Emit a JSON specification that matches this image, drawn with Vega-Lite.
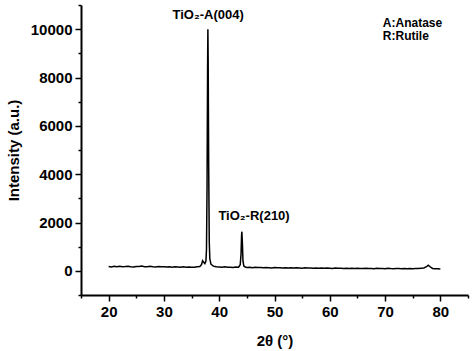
{
  "$schema": "https://vega.github.io/schema/vega-lite/v6.json",
  "width": 387,
  "height": 290,
  "autosize": {"type": "none"},
  "padding": {"left": 81, "top": 5, "right": 6, "bottom": 56},
  "background": "white",
  "config": {
    "view": {"stroke": null},
    "font": "Liberation Sans",
    "axis": {
      "domainColor": "black",
      "domainWidth": 2,
      "tickColor": "black",
      "tickWidth": 1.5,
      "labelColor": "black",
      "labelFont": "Liberation Sans",
      "labelFontWeight": "bold",
      "labelFontSize": 15,
      "labelFlush": false,
      "titleFont": "Liberation Sans",
      "titleFontWeight": "bold",
      "titleFontSize": 15,
      "titleColor": "black",
      "grid": false
    }
  },
  "datasets": {
    "xrd": [
      {"t": 20, "i": 180}, {"t": 20.5, "i": 160}, {"t": 21, "i": 190}, {"t": 21.5, "i": 170},
      {"t": 22, "i": 185}, {"t": 22.5, "i": 165}, {"t": 23, "i": 175}, {"t": 23.5, "i": 190},
      {"t": 24, "i": 170}, {"t": 24.5, "i": 160}, {"t": 25, "i": 180}, {"t": 25.5, "i": 175},
      {"t": 26, "i": 195}, {"t": 26.5, "i": 170}, {"t": 27, "i": 165}, {"t": 27.5, "i": 185},
      {"t": 28, "i": 170}, {"t": 28.5, "i": 160}, {"t": 29, "i": 175}, {"t": 29.5, "i": 165},
      {"t": 30, "i": 170}, {"t": 30.5, "i": 155}, {"t": 31, "i": 165}, {"t": 31.5, "i": 150},
      {"t": 32, "i": 170}, {"t": 32.5, "i": 160}, {"t": 33, "i": 150}, {"t": 33.5, "i": 165},
      {"t": 34, "i": 145}, {"t": 34.5, "i": 160}, {"t": 35, "i": 150}, {"t": 35.5, "i": 145},
      {"t": 36, "i": 165}, {"t": 36.5, "i": 180}, {"t": 36.8, "i": 260}, {"t": 37.0, "i": 420},
      {"t": 37.2, "i": 350}, {"t": 37.4, "i": 300}, {"t": 37.6, "i": 400}, {"t": 37.7, "i": 900},
      {"t": 37.8, "i": 3500}, {"t": 37.9, "i": 8500}, {"t": 37.95, "i": 10000}, {"t": 38.0, "i": 8800},
      {"t": 38.1, "i": 4200}, {"t": 38.2, "i": 1200}, {"t": 38.3, "i": 500}, {"t": 38.5, "i": 280},
      {"t": 38.8, "i": 220}, {"t": 39, "i": 190}, {"t": 39.5, "i": 170}, {"t": 40, "i": 160},
      {"t": 40.5, "i": 150}, {"t": 41, "i": 165}, {"t": 41.5, "i": 145}, {"t": 42, "i": 150},
      {"t": 42.5, "i": 140}, {"t": 43, "i": 155}, {"t": 43.5, "i": 150}, {"t": 43.8, "i": 250},
      {"t": 43.95, "i": 700}, {"t": 44.05, "i": 1500}, {"t": 44.1, "i": 1620}, {"t": 44.2, "i": 1100},
      {"t": 44.3, "i": 400}, {"t": 44.45, "i": 200}, {"t": 44.7, "i": 160}, {"t": 45, "i": 140},
      {"t": 45.5, "i": 150}, {"t": 46, "i": 130}, {"t": 46.5, "i": 145}, {"t": 47, "i": 135},
      {"t": 47.5, "i": 140}, {"t": 48, "i": 125}, {"t": 48.5, "i": 140}, {"t": 49, "i": 130},
      {"t": 49.5, "i": 120}, {"t": 50, "i": 135}, {"t": 50.5, "i": 125}, {"t": 51, "i": 130},
      {"t": 51.5, "i": 115}, {"t": 52, "i": 130}, {"t": 52.5, "i": 120}, {"t": 53, "i": 125},
      {"t": 53.5, "i": 115}, {"t": 54, "i": 130}, {"t": 54.5, "i": 120}, {"t": 55, "i": 110},
      {"t": 55.5, "i": 125}, {"t": 56, "i": 115}, {"t": 56.5, "i": 120}, {"t": 57, "i": 105},
      {"t": 57.5, "i": 120}, {"t": 58, "i": 110}, {"t": 58.5, "i": 115}, {"t": 59, "i": 105},
      {"t": 59.5, "i": 120}, {"t": 60, "i": 110}, {"t": 60.5, "i": 100}, {"t": 61, "i": 115},
      {"t": 61.5, "i": 105}, {"t": 62, "i": 110}, {"t": 62.5, "i": 100}, {"t": 63, "i": 110},
      {"t": 63.5, "i": 95}, {"t": 64, "i": 105}, {"t": 64.5, "i": 100}, {"t": 65, "i": 110},
      {"t": 65.5, "i": 95}, {"t": 66, "i": 100}, {"t": 66.5, "i": 105}, {"t": 67, "i": 95},
      {"t": 67.5, "i": 100}, {"t": 68, "i": 90}, {"t": 68.5, "i": 105}, {"t": 69, "i": 95},
      {"t": 69.5, "i": 100}, {"t": 70, "i": 90}, {"t": 70.5, "i": 110}, {"t": 71, "i": 95},
      {"t": 71.5, "i": 90}, {"t": 72, "i": 100}, {"t": 72.5, "i": 95}, {"t": 73, "i": 90},
      {"t": 73.5, "i": 100}, {"t": 74, "i": 85}, {"t": 74.5, "i": 95}, {"t": 75, "i": 90},
      {"t": 75.5, "i": 100}, {"t": 76, "i": 95}, {"t": 76.5, "i": 110}, {"t": 77, "i": 120},
      {"t": 77.5, "i": 170}, {"t": 77.8, "i": 230}, {"t": 78, "i": 200}, {"t": 78.3, "i": 140},
      {"t": 78.6, "i": 100}, {"t": 79, "i": 85}, {"t": 79.5, "i": 90}, {"t": 80, "i": 75}
    ],
    "peaks": [
      {"t": 38, "i": 10600, "text": "TiO₂-A(004)"},
      {"t": 46.3, "i": 2250, "text": "TiO₂-R(210)"}
    ],
    "legendText": [
      {"t": 69.6, "i": 10270, "text": "A:Anatase"},
      {"t": 69.6, "i": 9730, "text": "R:Rutile"}
    ]
  },
  "resolve": {"axis": {"x": "independent", "y": "independent"}},
  "layer": [
    {
      "data": {"name": "xrd"},
      "mark": {"type": "line", "color": "black", "strokeWidth": 1.5, "clip": true},
      "encoding": {
        "x": {
          "field": "t", "type": "quantitative",
          "scale": {"domain": [15, 85], "nice": false, "zero": false},
          "axis": {
            "orient": "bottom",
            "values": [20, 30, 40, 50, 60, 70, 80],
            "tickSize": 6,
            "labelPadding": 3,
            "title": "2θ (°)",
            "titleX": 193.5,
            "titleY": 45,
            "titleAlign": "center",
            "titleBaseline": "middle"
          }
        },
        "y": {
          "field": "i", "type": "quantitative",
          "scale": {"domain": [-1000, 11000], "nice": false, "zero": false},
          "axis": {
            "orient": "left",
            "values": [0, 2000, 4000, 6000, 8000, 10000],
            "format": "d",
            "tickSize": 6,
            "labelPadding": 3,
            "title": "Intensity (a.u.)",
            "titleX": -68,
            "titleY": 145,
            "titleAngle": -90,
            "titleAlign": "center",
            "titleBaseline": "middle"
          }
        }
      }
    },
    {
      "data": {"name": "peaks"},
      "mark": {"type": "text", "font": "Liberation Sans", "fontWeight": "bold", "fontSize": 13, "color": "black", "baseline": "middle", "align": "center"},
      "encoding": {
        "x": {
          "field": "t", "type": "quantitative",
          "axis": {"orient": "bottom", "values": [15, 25, 35, 45, 55, 65, 75, 85], "labels": false, "domain": false, "tickSize": 3, "title": null}
        },
        "y": {
          "field": "i", "type": "quantitative",
          "axis": {"orient": "left", "values": [-1000, 1000, 3000, 5000, 7000, 9000, 11000], "labels": false, "domain": false, "tickSize": 3, "title": null}
        },
        "text": {"field": "text"}
      }
    },
    {
      "data": {"name": "legendText"},
      "mark": {"type": "text", "font": "Liberation Sans", "fontWeight": "bold", "fontSize": 12, "color": "black", "baseline": "middle", "align": "left"},
      "encoding": {
        "x": {"field": "t", "type": "quantitative", "axis": null},
        "y": {"field": "i", "type": "quantitative", "axis": null},
        "text": {"field": "text"}
      }
    }
  ]
}
